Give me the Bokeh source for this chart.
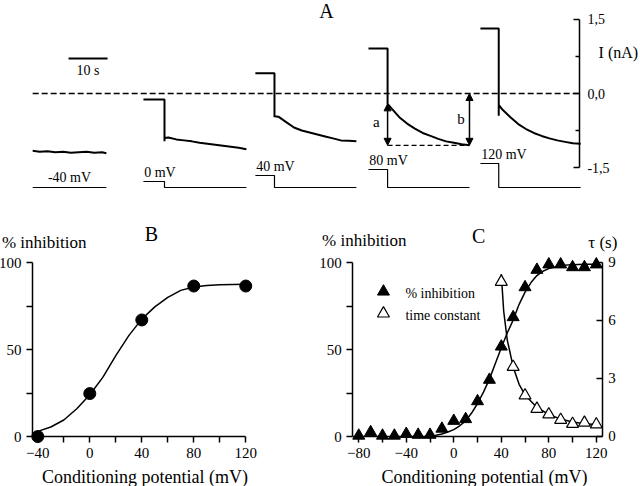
from bokeh.plotting import figure
from bokeh.layouts import column, row
from bokeh.models import (Range1d, LinearAxis, FixedTicker, Label, Arrow, NormalHead,
                          CustomJSTickFormatter)
from bokeh.embed import file_html
from bokeh.resources import INLINE

FONT = "Liberation Serif"

# ---------------- Panel A data (current traces) ----------------
cond_potential = [-40, 0, 40, 80, 120]          # conditioning potential, mV
holding_potential = -40                           # mV
cond_start = [6.2, 34.6, 63.3, 92.3, 121.0]       # s
step_time = [11.2, 40.0, 68.2, 97.2, 125.7]       # s
pre_current = [-1.16, -0.12, 0.41, 0.91, 1.32]    # nA during conditioning
drop_current = [-1.16, -0.97, -0.48, -0.21, -0.45]
rel_time = [0, 1, 3, 5, 7, 9, 11, 13, 15, 17, 19, 21]   # s after step
sweep1_time = [6.2, 8, 10, 12, 14, 16, 18, 20, 22, 24, 25.1]
sweep1_current = [-1.16, -1.18, -1.17, -1.19, -1.18, -1.20, -1.19, -1.18, -1.20, -1.19, -1.21]
sweep2_current = [-0.90, -0.89, -0.93, -0.95, -0.97, -1.00, -1.02, -1.04, -1.06, -1.08, -1.10, -1.13]
sweep3_current = [-0.46, -0.47, -0.58, -0.69, -0.75, -0.79, -0.83, -0.87, -0.91, -0.95, -0.96, -0.97]
sweep4_current = [-0.21, -0.30, -0.48, -0.61, -0.71, -0.80, -0.86, -0.92, -0.97, -1.00, -1.03, -1.05]
sweep5_current = [-0.23, -0.33, -0.48, -0.62, -0.72, -0.80, -0.86, -0.91, -0.95, -0.98, -1.01, -1.02]
scalebar_start = 15.4   # s
scalebar_len = 10       # s
trace_axis_time = 146.4  # s, where the current axis stands

# ---------------- Panel B data ----------------
b_potential = [-40, 0, 40, 80, 120]
b_inhibition = [0, 24.7, 67, 86.5, 86.5]
b_fit_potential = [-40, -30, -20, -10, 0, 10, 20, 30, 40, 50, 60, 70, 80, 90, 100, 110, 120]
b_fit_inhibition = [3, 5.5, 9.5, 16, 24, 34, 46.5, 58, 67.5, 74.5, 80, 84, 86, 86.8, 87.2, 87.4, 87.5]

# ---------------- Panel C data ----------------
c_potential = [-80, -70, -60, -50, -40, -30, -20, -10, 0, 10, 20, 30, 40, 50, 60, 70, 80, 90, 100, 110, 120]
c_inhibition = [0.5, 2.5, 0.5, 0.5, 1.5, 1, 1, 4.5, 9, 10, 20.3, 32.6, 51.7, 68.6, 85.8, 95.8, 98.9, 98.9, 97.3, 97.3, 98.9]
tau_potential = [40, 50, 60, 70, 80, 90, 100, 110, 120]
tau_s = [8.0, 3.6, 2.12, 1.43, 1.14, 0.86, 0.65, 0.71, 0.62]
c_fit_potential = [-20, -15, -10, -5, 0, 5, 10, 15, 20, 25, 30, 35, 40, 45, 50, 55, 60, 65, 70, 75, 80, 90, 100, 110, 120]
c_fit_inhibition = [0.3, 0.8, 1.5, 2.6, 4, 6.2, 9, 13.5, 19, 25.5, 33, 42, 51, 59.5, 67, 76, 83, 88.5, 92.5, 95, 96.5, 98.3, 98.8, 99, 99]
tau_fit_potential = [40, 42, 45, 50, 55, 60, 70, 80, 90, 100, 110, 120]
tau_fit_s = [8.4, 6.5, 5.0, 3.6, 2.7, 2.15, 1.5, 1.14, 0.9, 0.75, 0.66, 0.62]


def label(p, x, y, text, size="14px", align="left", baseline="middle", **kw):
    p.add_layout(Label(x=x, y=y, text=text, text_font=FONT, text_font_size=size,
                       text_align=align, text_baseline=baseline, text_color="black", **kw))


def style_axis(ax, size="15px"):
    ax.axis_line_color = "black"
    ax.axis_line_width = 1.5
    ax.major_tick_line_color = "black"
    ax.major_tick_line_width = 1.5
    ax.minor_tick_line_color = "black"
    ax.minor_tick_line_width = 1.5
    ax.major_label_text_font = FONT
    ax.major_label_text_font_size = size
    ax.major_label_text_color = "black"


def base_fig(w, h, xr, yr, **kw):
    p = figure(width=w, height=h, x_range=Range1d(*xr), y_range=Range1d(*yr),
               toolbar_location=None, output_backend="svg",
               min_border_left=0, min_border_right=0, min_border_top=0, min_border_bottom=0, **kw)
    p.outline_line_color = None
    p.grid.visible = False
    return p


# ======================= Panel A =======================
pA = base_fig(640, 198, (-2.05, 162.05), (-2.128, 1.885),
              x_axis_location=None, y_axis_location="right")
pA.extra_y_ranges = {"V": Range1d(-113.3, 1206.7)}
axA = pA.yaxis[0]
style_axis(axA, "14px")
axA.fixed_location = trace_axis_time
axA.ticker = FixedTicker(ticks=[-1.5, 0, 1.5], minor_ticks=[-0.75, 0.75])
axA.formatter = CustomJSTickFormatter(code="return tick.toFixed(1).replace('.', ',')")
axA.bounds = (-1.5, 1.5)
axA.major_tick_in = 6
axA.major_tick_out = 0
axA.minor_tick_in = 4
axA.minor_tick_out = 0
axA.major_label_standoff = 8

# zero-current dashed line
pA.line([cond_start[0], trace_axis_time], [0, 0], line_color="black", line_width=1.5, line_dash="6 3")

# current traces
trace_xs = [sweep1_time]
trace_ys = [sweep1_current]
later = [sweep2_current, sweep3_current, sweep4_current, sweep5_current]
for i in range(1, 5):
    xs = [cond_start[i], step_time[i], step_time[i]] + [step_time[i] + r for r in rel_time]
    ys = [pre_current[i], pre_current[i], drop_current[i]] + later[i - 1]
    trace_xs.append(xs)
    trace_ys.append(ys)
pA.multi_line(xs=trace_xs, ys=trace_ys, line_color="black", line_width=2)

# voltage protocol
v_xs, v_ys = [], []
ends = [sweep1_time[-1]] + [step_time[i] + rel_time[-1] for i in range(1, 5)]
for i in range(5):
    v_xs.append([cond_start[i], step_time[i], step_time[i], ends[i]])
    v_ys.append([cond_potential[i], cond_potential[i], holding_potential, holding_potential])
pA.multi_line(xs=v_xs, ys=v_ys, y_range_name="V", line_color="black", line_width=1.2)
for i in range(5):
    if i == 0:
        label(pA, (cond_start[0] + ends[0]) / 2, cond_potential[0] + 67, f"{cond_potential[0]} mV",
              "14px", align="center", y_range_name="V")
    else:
        label(pA, cond_start[i] + 0.2, cond_potential[i] + 62, f"{cond_potential[i]} mV",
              "14px", y_range_name="V")

# a / b measurements on the 80 mV sweep
a_x = step_time[3]
b_x = step_time[3] + rel_time[-1]
a_top, a_bottom = sweep4_current[0], sweep4_current[-1]
pA.line([a_x, b_x], [a_bottom, a_bottom], line_color="black", line_width=1.2, line_dash="5 3")
for (x, y0, y1) in [(a_x, a_top, a_bottom), (b_x, 0, a_bottom)]:
    pA.add_layout(Arrow(x_start=x, y_start=y0, x_end=x, y_end=y1, line_width=1.5,
                        start=NormalHead(size=7, fill_color="black", line_color="black"),
                        end=NormalHead(size=7, fill_color="black", line_color="black")))
label(pA, a_x - 2.9, (a_top + a_bottom) / 2 + 0.05, "a", "15px", align="center")
label(pA, b_x - 2.2, -0.52, "b", "15px", align="center")

# scale bar
pA.line([scalebar_start, scalebar_start + scalebar_len], [0.71, 0.71], line_color="black", line_width=2)
label(pA, scalebar_start + scalebar_len / 2, 0.47, f"{scalebar_len} s", "14px", align="center")

label(pA, 81.5, 1.68, "A", "20px", align="center")
label(pA, 151.3, 0.83, "I (nA)", "16px")

# ======================= Panel B =======================
pB = base_fig(320, 288, (-68.7, 177.5), (-28.7, 136.8))
for ax in (pB.xaxis[0], pB.yaxis[0]):
    style_axis(ax)
    ax.major_tick_in = 0
    ax.major_tick_out = 6
    ax.minor_tick_in = 0
    ax.minor_tick_out = 6
pB.xaxis.fixed_location = 0
pB.yaxis.fixed_location = -44
pB.xaxis.bounds = (-44, 120)
pB.yaxis.bounds = (0, 100)
pB.xaxis.ticker = FixedTicker(ticks=[-40, 0, 40, 80, 120], minor_ticks=[-20, 20, 60, 100])
pB.yaxis.ticker = FixedTicker(ticks=[0, 50, 100], minor_ticks=[25, 75])
pB.xaxis.major_label_standoff = 5
pB.yaxis.major_label_standoff = 5

pB.line(b_fit_potential, b_fit_inhibition, line_color="black", line_width=1.5)
pB.scatter(b_potential, b_inhibition, marker="circle", size=12, color="black")
label(pB, -67.6, 111.7, "% inhibition", "17px")
label(pB, 47.5, 116.5, "B", "20px", align="center")
label(pB, 42.4, -23.4, "Conditioning potential (mV)", "18px", align="center")

# ======================= Panel C =======================
pC = base_fig(320, 288, (-112.2, 157.2), (-28.7, 136.8))
pC.extra_y_ranges = {"tau": Range1d(-2.587, 12.31)}
for ax in (pC.xaxis[0], pC.yaxis[0]):
    style_axis(ax)
    ax.major_tick_in = 0
    ax.major_tick_out = 6
    ax.minor_tick_in = 0
    ax.minor_tick_out = 6
pC.xaxis.fixed_location = 0
pC.yaxis.fixed_location = -85
pC.xaxis.bounds = (-85, 125)
pC.yaxis.bounds = (0, 100)
pC.xaxis.ticker = FixedTicker(ticks=[-80, -40, 0, 40, 80, 120], minor_ticks=[-60, -20, 20, 60, 100])
pC.yaxis.ticker = FixedTicker(ticks=[0, 50, 100], minor_ticks=[25, 75])
pC.xaxis.major_label_standoff = 5
pC.yaxis.major_label_standoff = 5
tau_axis = LinearAxis(y_range_name="tau", fixed_location=125, bounds=(0, 9),
                      ticker=FixedTicker(ticks=[0, 3, 6, 9]))
style_axis(tau_axis)
tau_axis.major_tick_in = 6
tau_axis.major_tick_out = 0
tau_axis.major_label_standoff = 6
pC.add_layout(tau_axis, "right")

pC.line(c_fit_potential, c_fit_inhibition, line_color="black", line_width=1.5)
pC.line(tau_fit_potential, tau_fit_s, y_range_name="tau", line_color="black", line_width=1.5)
pC.scatter(c_potential, c_inhibition, marker="triangle", size=12, color="black")
pC.scatter(tau_potential, tau_s, y_range_name="tau", marker="triangle", size=12,
           fill_color="white", line_color="black", line_width=1.2)

# legend
pC.scatter([-59.2], [83.3], marker="triangle", size=12, color="black")
pC.scatter([-59.2], [70.7], marker="triangle", size=12, fill_color="white", line_color="black", line_width=1.2)
label(pC, -40.7, 82.0, "% inhibition", "14px")
label(pC, -40.7, 69.4, "time constant", "14px")

label(pC, -110.9, 112.6, "% inhibition", "17px")
label(pC, 21, 115.5, "C", "20px", align="center")
label(pC, 137.7, 111.7, "\u03c4 (s)", "17px", align="right")
label(pC, 25.8, -23.4, "Conditioning potential (mV)", "18px", align="center")

layout = column(pA, row(pB, pC))
open("out.html", "w").write(file_html(layout, INLINE))
